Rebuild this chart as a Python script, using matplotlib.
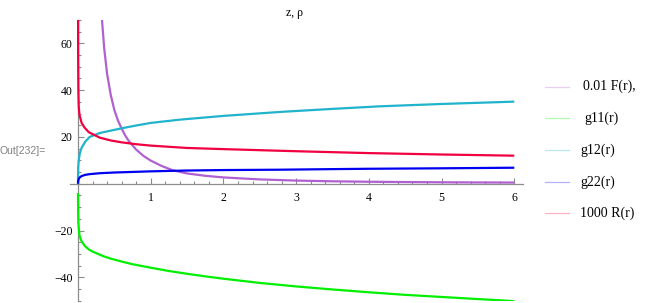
import numpy as np
import matplotlib
matplotlib.use('Agg')
from matplotlib import pyplot as plt
from matplotlib.lines import Line2D
from matplotlib.ticker import MultipleLocator

# values
r_F = [0.30, 0.33, 0.36, 0.4, 0.45, 0.5, 0.55, 0.6, 0.65, 0.7, 0.8, 0.9, 1.0, 1.15, 1.3, 1.5, 1.75, 2.0, 2.5, 3.0, 3.5, 4.0, 4.5, 5.0, 5.5, 6.0]
F = [88, 70, 58, 47, 38, 31.5, 27, 23.6, 20.6, 18.2, 14.6, 11.9, 9.9, 7.6, 5.8, 4.4, 3.4, 2.7, 1.85, 1.35, 1.05, 0.85, 0.72, 0.62, 0.55, 0.5]

r_g11 = [0.0, 0.002, 0.005, 0.013, 0.02, 0.04, 0.07, 0.1, 0.15, 0.2, 0.26, 0.35, 0.45, 0.58, 0.75, 1.0, 1.25, 1.5, 1.75, 2.0, 2.5, 3.0, 3.5, 4.0, 4.5, 5.0, 5.5, 5.9, 6.0]
g11 = [-4, -12, -16.5, -19.7, -22, -24, -25.6, -26.8, -28.1, -29, -29.8, -31, -32, -33.1, -34.4, -35.9, -37.3, -38.5, -39.6, -40.6, -42.4, -43.9, -45.2, -46.4, -47.5, -48.4, -49.3, -50.0, -50.2]

r_g12 = [0.0, 0.001, 0.003, 0.01, 0.025, 0.05, 0.1, 0.16, 0.3, 0.45, 0.6, 0.8, 1.0, 1.4, 2.0, 2.78, 3.5, 4.15, 5.0, 6.0]
g12 = [0, 4, 7, 10, 13, 15.4, 18, 20, 21.7, 22.7, 23.7, 24.9, 26, 27.4, 29, 30.7, 32, 33.1, 34.1, 35.1]

r_g22 = [0.0, 0.002, 0.005, 0.01, 0.02, 0.05, 0.1, 0.16, 0.3, 0.5, 0.75, 1.0, 1.5, 2.0, 2.78, 3.5, 4.0, 5.0, 6.0]
g22 = [0, 0.9, 1.5, 2.0, 2.6, 3.3, 3.8, 4.1, 4.5, 4.8, 5.05, 5.3, 5.65, 5.85, 6.0, 6.25, 6.4, 6.6, 6.85]

r_R = [0.0005, 0.002, 0.005, 0.01, 0.02, 0.05, 0.09, 0.15, 0.3, 0.45, 0.6, 0.8, 1.0, 1.5, 2.0, 2.5, 3.0, 3.5, 4.0, 4.5, 5.0, 5.5, 6.0]
R = [95, 55, 40, 33, 29.5, 26, 24, 22, 19.7, 18.5, 17.7, 16.9, 16.3, 15.3, 14.8, 14.35, 13.9, 13.5, 13.1, 12.8, 12.5, 12.25, 12.0]

labels = ['0.01 F(r),', 'g11(r)', 'g12(r)', 'g22(r)', '1000 R(r)']
colors = ['#b060d0', '#00f000', '#20b4cc', '#0000f0', '#f00040']

x_ticks = [1, 2, 3, 4, 5, 6]
y_ticks = [-40, -20, 20, 40, 60]

serif = ['Liberation Serif', 'DejaVu Serif']

fig = plt.figure(figsize=(6.64, 3.03), dpi=100)
ax = fig.add_axes([70 / 664, 1 - 300.7 / 303, 453 / 664, 280.7 / 303])

series = [(r_F, F), (r_g11, g11), (r_g12, g12), (r_g22, g22), (r_R, R)]
for (rr, vv), c in zip(series, colors):
    ax.plot(rr, vv, color=c, lw=1.6, solid_capstyle='butt', zorder=3)

ax.set_xlim(-0.11, 6.12)
ax.set_ylim(-50, 70)

for s in ['top', 'right']:
    ax.spines[s].set_visible(False)
ax.spines['left'].set_position(('data', 0))
ax.spines['bottom'].set_position(('data', 0))
for s in ['left', 'bottom']:
    ax.spines[s].set_color('#8c8c8c')
    ax.spines[s].set_linewidth(0.9)

ax.set_xticks(x_ticks)
ax.set_yticks(y_ticks)
ax.xaxis.set_minor_locator(MultipleLocator(0.2))
ax.yaxis.set_minor_locator(MultipleLocator(5))
ax.tick_params(which='both', direction='in', color='#8c8c8c', width=0.8)
ax.tick_params(which='major', length=4)
ax.tick_params(which='minor', length=2.3)
ax.tick_params(axis='x', pad=6)
ax.tick_params(axis='y', pad=4)
ax.set_xticklabels([str(t) for t in x_ticks])
ax.set_yticklabels([str(t).replace('-', '\u2212') for t in y_ticks])
for lab in ax.get_xticklabels() + ax.get_yticklabels():
    lab.set_family(serif)
    lab.set_fontsize(8.5)

fig.text(294 / 664, 1 - 13 / 303, 'z, \u03c1', family=serif, fontsize=8.5,
         ha='center', va='center')
fig.text(0, 1 - 151 / 303, 'Out[232]=', family=['Liberation Sans', 'DejaVu Sans'],
         fontsize=7.5, color='#808080', ha='left', va='center')

# legend, drawn by hand like the original
rows = [86.7, 118.3, 150, 182.3, 213.3]
text_x = [583, 584, 580, 580, 580]
for lab, c, yy, tx in zip(labels, colors, rows, text_x):
    yf = 1 - yy / 303
    fig.add_artist(Line2D([545 / 664, 569 / 664], [yf, yf], color=c, alpha=0.3, lw=0.9))
    fig.text(tx / 664, yf, lab, family=serif, fontsize=10, ha='left', va='center')

fig.savefig('out.png', dpi=100)
